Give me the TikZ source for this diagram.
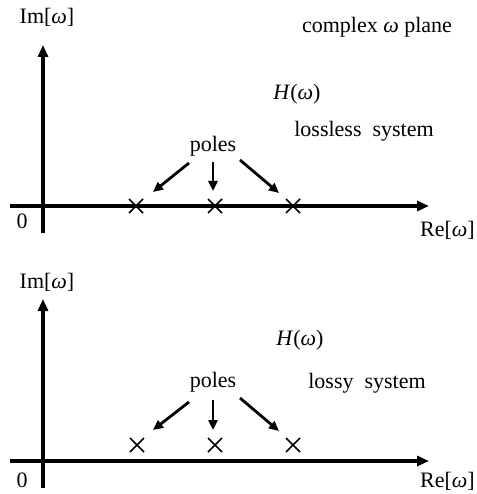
\documentclass[tikz,border=0pt]{standalone}
\usepackage{fontspec}
\setmainfont{Liberation Serif}
\usetikzlibrary{arrows.meta,calc}
\tikzset{
  axis/.style={line width=3.2pt,-{Triangle[length=12pt,width=10pt]}},
  polearrow/.style={line width=2.8pt,-{Triangle[length=10pt,width=9pt]}},
  cross/.style={line width=1.6pt},
  lbl/.style={inner sep=0pt,font=\fontsize{22}{26}\selectfont}
}
\newcommand{\polecross}[1]{\draw[cross] ($(#1)+(-7,-7)$) -- ($(#1)+(7,7)$) ($(#1)+(-7,7)$) -- ($(#1)+(7,-7)$);}
\begin{document}
\begin{tikzpicture}[x=1pt,y=-1pt]
\useasboundingbox (0,0) rectangle (476,494);
% ---------- top panel ----------
\coordinate (v1s) at (43,233);
\coordinate (v1e) at (43,45);
\coordinate (h1s) at (10,206);
\coordinate (h1e) at (429,206);
\draw[axis] (v1s) -- (v1e);
\draw[axis] (h1s) -- (h1e);
\coordinate (p1a) at (136,206);
\coordinate (p1b) at (215,206);
\coordinate (p1c) at (293,206);
\polecross{p1a}\polecross{p1b}\polecross{p1c}
\node[lbl] (im1) at (47,17) {Im[\textit{ω}]};
\node[lbl,anchor=east] (re1) at (475,230) {Re[\textit{ω}]};
\node[lbl] (z1) at (22,221) {0};
\node[lbl] (cplx) at (377,27) {complex \textit{ω} plane};
\node[lbl] (h1) at (297,94) {\textit{H}(\textit{ω})};
\node[lbl] (sys1) at (364,131) {lossless\hspace{0.5em}system};
\node[lbl] (poles1) at (213,146) {poles};
\coordinate (a1s) at (189,163);
\coordinate (a1e) at (153,192);
\coordinate (b1s) at (213,162);
\coordinate (b1e) at (213,191);
\coordinate (c1s) at (240,160);
\coordinate (c1e) at (279,193);
\draw[polearrow] (a1s) -- (a1e);
\draw[polearrow] (b1s) -- (b1e);
\draw[polearrow] (c1s) -- (c1e);
% ---------- bottom panel ----------
\coordinate (v2s) at (43,488);
\coordinate (v2e) at (43,299);
\coordinate (h2s) at (10,461);
\coordinate (h2e) at (429,461);
\draw[axis] (v2s) -- (v2e);
\draw[axis] (h2s) -- (h2e);
\coordinate (p2a) at (137,445);
\coordinate (p2b) at (215,445);
\coordinate (p2c) at (293,445);
\polecross{p2a}\polecross{p2b}\polecross{p2c}
\node[lbl] (im2) at (47,282) {Im[\textit{ω}]};
\node[lbl,anchor=east] (re2) at (475,481) {Re[\textit{ω}]};
\node[lbl] (z2) at (22,480) {0};
\node[lbl] (h2) at (300,340) {\textit{H}(\textit{ω})};
\node[lbl] (sys2) at (367,383) {lossy\hspace{0.5em}system};
\node[lbl] (poles2) at (213,382) {poles};
\coordinate (a2s) at (189,402);
\coordinate (a2e) at (153,430);
\coordinate (b2s) at (213,400);
\coordinate (b2e) at (213,430);
\coordinate (c2s) at (240,398);
\coordinate (c2e) at (279,431);
\draw[polearrow] (a2s) -- (a2e);
\draw[polearrow] (b2s) -- (b2e);
\draw[polearrow] (c2s) -- (c2e);
\end{tikzpicture}
\end{document}
